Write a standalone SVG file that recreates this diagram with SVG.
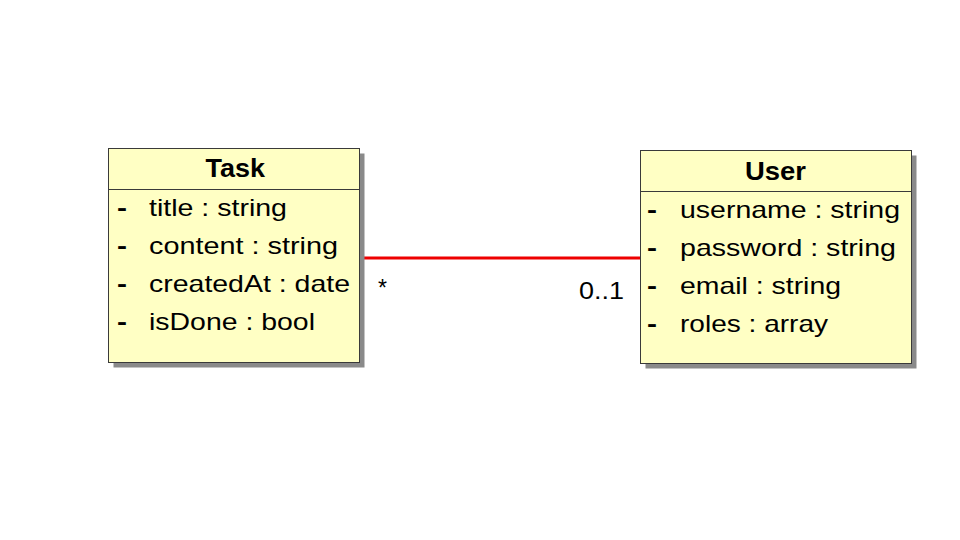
<svg xmlns="http://www.w3.org/2000/svg" width="960" height="540" viewBox="0 0 960 540">
<style>
.shadow{fill:#8a8a8a;}
.box{fill:#ffffc4;stroke:#3a3a3a;stroke-width:1;}
.div{stroke:#3a3a3a;stroke-width:1;}
.t{font-family:"Liberation Sans",Arial,sans-serif;font-size:24px;fill:#000;}
.h{font-family:"Liberation Sans",Arial,sans-serif;font-size:25px;font-weight:bold;fill:#000;}
.d{font-family:"Liberation Sans",Arial,sans-serif;font-size:24px;font-weight:bold;fill:#000;}
.conn{stroke:#ee0000;stroke-width:3;fill:none;}
</style>
<rect width="960" height="540" fill="#ffffff"/>
<g id="connectors">
<line class="conn" x1="364" y1="258" x2="640" y2="258"/>
<text class="t" x="378" y="296" textLength="9" lengthAdjust="spacingAndGlyphs">*</text>
<text class="t" x="579" y="299" textLength="45" lengthAdjust="spacingAndGlyphs">0..1</text>
</g>
<g id="task">
<rect class="shadow" x="113.5" y="153.5" width="251" height="214"/>
<rect class="box" x="108.5" y="148.5" width="251" height="214"/>
<line class="div" x1="108.5" y1="189.5" x2="359.5" y2="189.5"/>
<text class="h" x="205.5" y="177" textLength="59.5" lengthAdjust="spacingAndGlyphs">Task</text>
<text class="d" x="117" y="216" textLength="10" lengthAdjust="spacingAndGlyphs">-</text>
<text class="t" x="149" y="216" textLength="138" lengthAdjust="spacingAndGlyphs">title : string</text>
<text class="d" x="117" y="254" textLength="10" lengthAdjust="spacingAndGlyphs">-</text>
<text class="t" x="149" y="254" textLength="189" lengthAdjust="spacingAndGlyphs">content : string</text>
<text class="d" x="117" y="292" textLength="10" lengthAdjust="spacingAndGlyphs">-</text>
<text class="t" x="149" y="292" textLength="201" lengthAdjust="spacingAndGlyphs">createdAt : date</text>
<text class="d" x="117" y="330" textLength="10" lengthAdjust="spacingAndGlyphs">-</text>
<text class="t" x="149" y="330" textLength="166" lengthAdjust="spacingAndGlyphs">isDone : bool</text>
</g>
<g id="user">
<rect class="shadow" x="645.5" y="155.5" width="271" height="213"/>
<rect class="box" x="640.5" y="150.5" width="271" height="213"/>
<line class="div" x1="640.5" y1="191.5" x2="911.5" y2="191.5"/>
<text class="h" x="745" y="180" textLength="61" lengthAdjust="spacingAndGlyphs">User</text>
<text class="d" x="647" y="218" textLength="10" lengthAdjust="spacingAndGlyphs">-</text>
<text class="t" x="680" y="218" textLength="220" lengthAdjust="spacingAndGlyphs">username : string</text>
<text class="d" x="647" y="256" textLength="10" lengthAdjust="spacingAndGlyphs">-</text>
<text class="t" x="680" y="256" textLength="216" lengthAdjust="spacingAndGlyphs">password : string</text>
<text class="d" x="647" y="294" textLength="10" lengthAdjust="spacingAndGlyphs">-</text>
<text class="t" x="680" y="294" textLength="161" lengthAdjust="spacingAndGlyphs">email : string</text>
<text class="d" x="647" y="332" textLength="10" lengthAdjust="spacingAndGlyphs">-</text>
<text class="t" x="680" y="332" textLength="148" lengthAdjust="spacingAndGlyphs">roles : array</text>
</g>
</svg>
